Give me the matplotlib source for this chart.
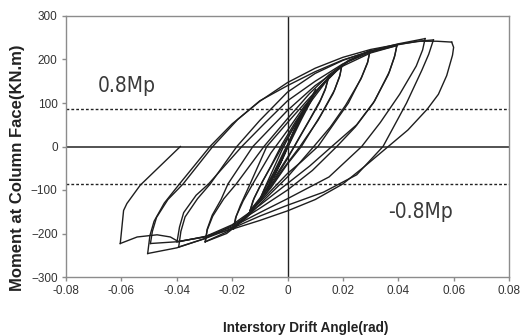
import matplotlib
matplotlib.use("Agg")
import matplotlib.pyplot as plt

plt.rcParams['font.family'] = ['Liberation Sans', 'DejaVu Sans']

# small elastic cycles (closed loops, drift in rad, moment in kN.m)
loop_a_x = [-0.0038, -0.0025, -0.001, 0.001, 0.0025, 0.0038, 0.0026, 0.001, -0.001, -0.0026, -0.0038]
loop_a_y = [-52, -38, -14, 18, 40, 54, 38, 12, -18, -40, -52]
loop_b_x = [-0.005, -0.0035, -0.0015, 0.001, 0.0032, 0.005, 0.0036, 0.0015, -0.001, -0.0033, -0.005]
loop_b_y = [-70, -52, -22, 16, 48, 72, 55, 22, -16, -48, -70]
loop_c_x = [-0.0075, -0.0058, -0.0028, 0.0008, 0.004, 0.0075, 0.006, 0.003, -0.0008, -0.0042, -0.0075]
loop_c_y = [-100, -78, -36, 10, 58, 102, 80, 40, -10, -58, -100]
loop_d_x = [-0.0102, -0.0085, -0.005, -0.001, 0.003, 0.0065, 0.0102, 0.0088, 0.005, 0.001, -0.003, -0.0068, -0.0102]
loop_d_y = [-125, -100, -60, -8, 42, 88, 132, 108, 62, 10, -40, -88, -125]

# 1.5% cycles
u15a_x = [-0.0102, -0.008, -0.005, -0.002, 0.002, 0.006, 0.01, 0.0147]
u15a_y = [-125, -92, -50, -8, 42, 88, 125, 156]
l15a_x = [0.0147, 0.0138, 0.012, 0.008, 0.004, 0.0, -0.005, -0.01, -0.0135]
l15a_y = [156, 135, 108, 62, 18, -28, -80, -122, -147]
u15b_x = [-0.0135, -0.0125, -0.01, -0.006, -0.002, 0.003, 0.008, 0.012, 0.0147]
u15b_y = [-147, -125, -92, -45, 5, 58, 105, 138, 156]
l15b_x = [0.0147, 0.0136, 0.0115, 0.007, 0.0025, -0.002, -0.007, -0.0135]
l15b_y = [156, 130, 100, 50, 0, -45, -95, -147]

# 2% cycles
u2a_x = [-0.0135, -0.012, -0.009, -0.005, -0.001, 0.004, 0.009, 0.014, 0.0196]
u2a_y = [-147, -118, -80, -35, 10, 62, 108, 150, 186]
l2a_x = [0.0196, 0.019, 0.017, 0.012, 0.005, 0.0, -0.006, -0.012, -0.0195]
l2a_y = [186, 165, 130, 72, 0, -40, -95, -140, -189]
u2b_x = [-0.0195, -0.0185, -0.016, -0.012, -0.006, 0.0, 0.006, 0.012, 0.0196]
u2b_y = [-189, -160, -125, -80, -15, 37, 92, 138, 186]
l2b_x = [0.0196, 0.0188, 0.0165, 0.011, 0.0045, -0.002, -0.008, -0.014, -0.0195]
l2b_y = [186, 160, 122, 60, 0, -55, -110, -155, -189]

# 3% cycles
u3a_x = [-0.0195, -0.0188, -0.017, -0.0135, -0.0075, 0.0, 0.008, 0.015, 0.022, 0.0298]
u3a_y = [-189, -165, -135, -86, 0, 55, 112, 160, 196, 220]
l3a_x = [0.0298, 0.029, 0.0268, 0.022, 0.0165, 0.011, 0.005, 0.0, -0.008, -0.015, -0.0215, -0.0297]
l3a_y = [220, 195, 160, 100, 50, 0, -35, -62, -115, -160, -195, -219]
u3b_x = [-0.0297, -0.029, -0.027, -0.023, -0.0185, -0.0085, 0.0, 0.008, 0.015, 0.022, 0.0298]
u3b_y = [-219, -192, -160, -120, -86, 0, 64, 122, 165, 198, 220]
l3b_x = [0.0298, 0.0289, 0.0265, 0.021, 0.0155, 0.0095, 0.0, -0.008, -0.015, -0.022, -0.0297]
l3b_y = [220, 192, 155, 95, 45, 0, -70, -120, -165, -200, -219]

# 4% cycles
u4a_x = [-0.0297, -0.029, -0.0272, -0.024, -0.0215, -0.0125, 0.0, 0.01, 0.02, 0.03, 0.0395]
u4a_y = [-219, -190, -158, -122, -86, 0, 83, 140, 185, 215, 232]
l4a_x = [0.0395, 0.0388, 0.0368, 0.0315, 0.025, 0.016, 0.008, 0.0, -0.01, -0.02, -0.03, -0.0399]
l4a_y = [232, 210, 172, 105, 50, 0, -45, -85, -135, -180, -208, -219]
u4b_x = [-0.0399, -0.039, -0.0375, -0.033, -0.0285, -0.0165, -0.008, 0.0, 0.01, 0.02, 0.03, 0.0395]
u4b_y = [-219, -185, -152, -112, -86, 0, 55, 105, 150, 190, 217, 232]
l4b_x = [0.0395, 0.0386, 0.0364, 0.031, 0.0245, 0.0178, 0.009, 0.0, -0.01, -0.02, -0.03, -0.0393]
l4b_y = [232, 205, 165, 100, 45, 0, -55, -100, -142, -182, -212, -231]

# 5% cycles
u5a_x = [-0.0393, -0.0385, -0.037, -0.0325, -0.0279, -0.0183, -0.01, 0.0, 0.01, 0.02, 0.03, 0.04, 0.0497]
u5a_y = [-231, -195, -162, -120, -86, 0, 60, 125, 168, 198, 220, 236, 248]
l5a_x = [0.0497, 0.0488, 0.0465, 0.0405, 0.0335, 0.0268, 0.015, 0.0, -0.01, -0.02, -0.03, -0.04, -0.0495]
l5a_y = [248, 222, 185, 120, 55, 0, -70, -120, -152, -185, -208, -219, -223]
u5b_x = [-0.0495, -0.0488, -0.0473, -0.0432, -0.0377, -0.027, -0.018, -0.01, 0.0, 0.01, 0.02, 0.03, 0.04, 0.047, 0.0527]
u5b_y = [-223, -195, -163, -122, -86, 0, 62, 105, 140, 172, 199, 219, 234, 242, 245]
l5b_x = [0.0527, 0.051, 0.0485, 0.043, 0.0345, 0.025, 0.013, 0.0, -0.01, -0.02, -0.03, -0.04, -0.0505]
l5b_y = [245, 212, 175, 100, 0, -65, -105, -135, -160, -188, -212, -233, -246]

# 6% cycle and final unloading
u6_x = [-0.0505, -0.0497, -0.0482, -0.0445, -0.039, -0.028, -0.02, -0.01, 0.0, 0.01, 0.02, 0.03, 0.04, 0.048, 0.0539, 0.0593]
u6_y = [-246, -205, -172, -130, -86, 0, 52, 104, 147, 180, 205, 223, 235, 242, 242, 240]
l6_x = [0.0593, 0.06, 0.0596, 0.0575, 0.0545, 0.0505, 0.0435, 0.0364, 0.028, 0.02, 0.01, 0.0,
        -0.01, -0.02, -0.03, -0.0393, -0.0423, -0.0471, -0.0543, -0.0604]
l6_y = [240, 228, 210, 163, 120, 86, 38, 0, -45, -86, -122, -148,
        -170, -190, -207, -219, -208, -203, -208, -223]
end_x = [-0.0604, -0.0598, -0.0592, -0.058, -0.0532, -0.0387]
end_y = [-223, -185, -147, -131, -89, 0]

branches = [
    (loop_a_x, loop_a_y), (loop_b_x, loop_b_y), (loop_c_x, loop_c_y), (loop_d_x, loop_d_y),
    (u15a_x, u15a_y), (l15a_x, l15a_y), (u15b_x, u15b_y), (l15b_x, l15b_y),
    (u2a_x, u2a_y), (l2a_x, l2a_y), (u2b_x, u2b_y), (l2b_x, l2b_y),
    (u3a_x, u3a_y), (l3a_x, l3a_y), (u3b_x, u3b_y), (l3b_x, l3b_y),
    (u4a_x, u4a_y), (l4a_x, l4a_y), (u4b_x, u4b_y), (l4b_x, l4b_y),
    (u5a_x, u5a_y), (l5a_x, l5a_y), (u5b_x, u5b_y), (l5b_x, l5b_y),
    (u6_x, u6_y), (l6_x, l6_y), (end_x, end_y),
]

mp_level = 87
x_ticks = [-0.08, -0.06, -0.04, -0.02, 0, 0.02, 0.04, 0.06, 0.08]
x_labels = ['-0.08', '-0.06', '-0.04', '-0.02', '0', '0.02', '0.04', '0.06', '0.08']
y_ticks = [-300, -200, -100, 0, 100, 200, 300]

fig = plt.figure(figsize=(5.23, 3.36), dpi=100)
ax = fig.add_axes([66 / 523, 1 - 277 / 336, 443 / 523, 261 / 336])

ax.axhline(0, color='#444444', lw=1.3, zorder=1)
ax.axvline(0, color='#222222', lw=1.0, zorder=1)
for lev in (mp_level, -mp_level):
    ax.axhline(lev, color='#222222', lw=1.0, linestyle=(0, (2, 1.5)), zorder=1)

for bx, by in branches:
    ax.plot(bx, by, color='#1e1e1e', lw=1.0, solid_joinstyle='round', zorder=3)

ax.set_xlim(-0.08, 0.08)
ax.set_ylim(-300, 300)
ax.set_xticks(x_ticks)
ax.set_xticklabels(x_labels)
ax.set_yticks(y_ticks)
for sp in ax.spines.values():
    sp.set_color('#8c8c8c')
    sp.set_linewidth(1.0)
ax.tick_params(direction='out', length=3, width=1, color='#8c8c8c',
               labelsize=8.5, labelcolor='#333333', pad=3)

mp_font = dict(fontsize=15, color='#3a3a3a', va='center', ha='left',
               family=['DejaVu Sans'], fontstretch='condensed')
ax.text(-0.0687, 140, '0.8Mp', **mp_font)
ax.text(0.0363, -151, '-0.8Mp', **mp_font)

ax.set_xlabel('Interstory Drift Angle(rad)', fontsize=9.8, fontweight='bold', color='#222222')
ax.set_ylabel('Moment at Column Face(KN.m)', fontsize=12, fontweight='bold', color='#222222')
ax.xaxis.set_label_coords((306 - 66) / 443, -0.17)
ax.yaxis.set_label_coords((25 - 66) / 443, 0.418)

fig.savefig('out.png', dpi=100)
